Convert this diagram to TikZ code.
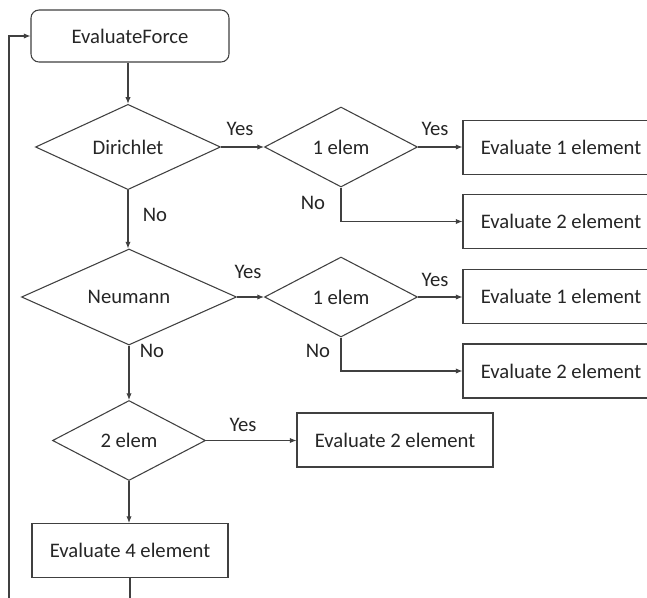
\documentclass[tikz,border=0pt]{standalone}
\usepackage{fontspec}
\setmainfont{Carlito}
\usetikzlibrary{shapes.geometric,arrows.meta}
\definecolor{ln}{HTML}{404040}
\definecolor{tx}{HTML}{262626}
\begin{document}
\begin{tikzpicture}[x=0.75pt,y=-0.75pt,
  every node/.style={font=\fontsize{15.5}{18}\selectfont, text=tx},
  box/.style={draw=ln, line width=0.8pt, minimum width=147pt, minimum height=40.5pt, inner sep=0pt},
  rbox/.style={box, rounded corners=6pt, minimum height=39pt, minimum width=148.5pt},
  dia/.style={draw=ln, line width=0.8pt, diamond, inner sep=0pt, minimum width=#1*0.75pt, minimum height=60pt},
  lbl/.style={inner sep=0pt},
  conn/.style={draw=ln, line width=0.8pt, -{Latex[length=5pt,width=4pt]}}]
\useasboundingbox (0,0) rectangle (647,597);
\clip (0,0) rectangle (647,597);
\fill[white] (0,0) rectangle (647,597);
% nodes
\node[rbox] (ef) at (130,36) {EvaluateForce};
\node[dia=185] (dir) at (128,147) {Dirichlet};
\node[dia=153] (c1) at (341,147) {1 elem};
\node[box] (e1a) at (561,147.5) {Evaluate 1 element};
\node[box] (e2a) at (561,221.5) {Evaluate 2 element};
\node[dia=215] (neu) at (129,297) {Neumann};
\node[dia=153] (c2) at (341,297) {1 elem};
\node[box] (e1b) at (561,296.5) {Evaluate 1 element};
\node[box] (e2b) at (561,371) {Evaluate 2 element};
\node[dia=153] (c3) at (129,440.5) {2 elem};
\node[box] (e2c) at (395,440) {Evaluate 2 element};
\node[box] (e4) at (130,550.5) {Evaluate 4 element};
\coordinate (lp) at (9,620);
% connectors
\draw[conn] (ef.south -| dir.north) -- (dir.north);
\draw[conn] (dir.east) -- (c1.west);
\draw[conn] (c1.east) -- (e1a.west |- c1.east);
\draw[conn] (c1.south) |- (e2a.west);
\draw[conn] (dir.south) -- (neu.north -| dir.south);
\draw[conn] (neu.east) -- (c2.west);
\draw[conn] (c2.east) -- (e1b.west |- c2.east);
\draw[conn] (c2.south) |- (e2b.west);
\draw[conn] (neu.south) -- (c3.north);
\draw[conn] (c3.east) -- (e2c.west |- c3.east);
\draw[conn] (c3.south) -- (e4.north -| c3.south);
\draw[conn] (e4.south) |- (lp) |- (ef.west);
% labels
\node[lbl] (y1) at (240,129) {Yes};
\node[lbl] (y2) at (435,129) {Yes};
\node[lbl] (y3) at (248,272) {Yes};
\node[lbl] (y4) at (435,280) {Yes};
\node[lbl] (y5) at (243,425) {Yes};
\node[lbl] (n1) at (155,215) {No};
\node[lbl] (n2) at (313,203) {No};
\node[lbl] (n3) at (152,351) {No};
\node[lbl] (n4) at (318,351) {No};
\end{tikzpicture}
\end{document}
